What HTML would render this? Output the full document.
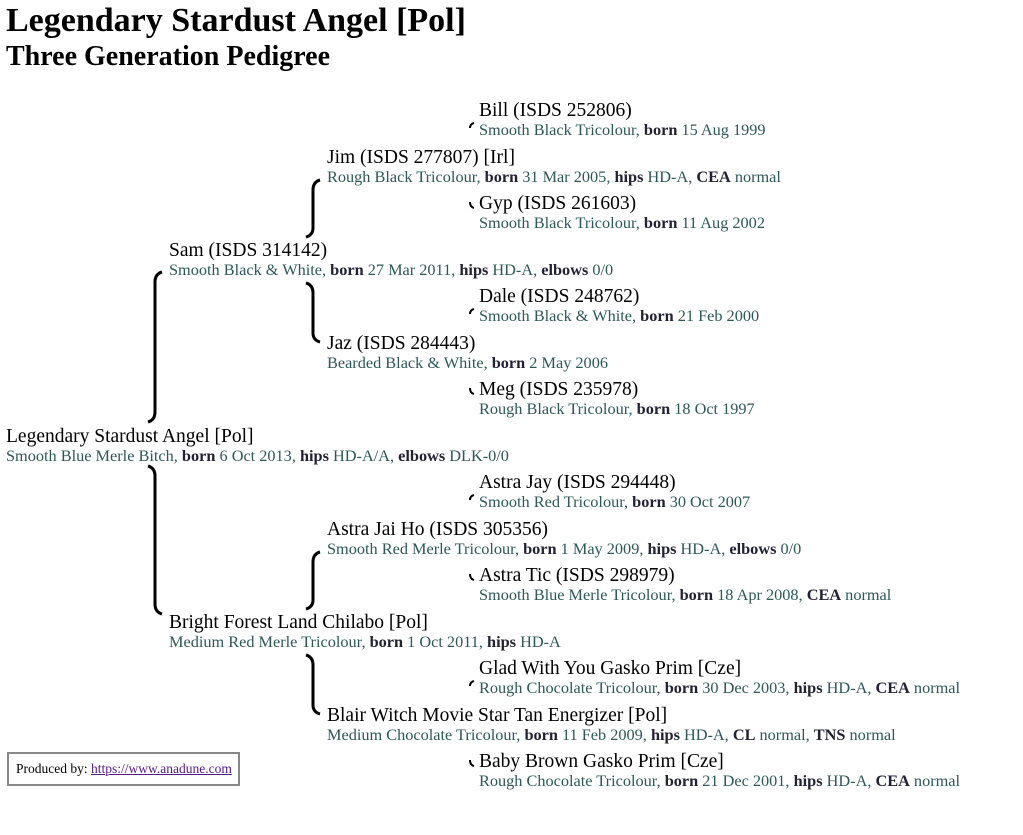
<!DOCTYPE html>
<html><head><meta charset="utf-8"><style>
body{margin:0;width:1023px;height:835px;background:#fff;font-family:"Liberation Serif",serif;position:relative;overflow:hidden}
.t{position:absolute;left:6px;top:3px;font-size:34px;font-weight:bold;line-height:36px;margin:0}
.s{position:absolute;left:6px;top:42px;font-size:28px;font-weight:bold;line-height:30px}
.n{position:absolute;font-size:19.5px;line-height:20px;white-space:nowrap;color:#000;margin-top:2px}
.d{position:absolute;font-size:16.3px;line-height:18px;white-space:nowrap;color:#2f5757}
.d b{color:#223}
.box{position:absolute;left:7px;top:752px;height:34px;border:2px solid #888;font-size:13.5px;line-height:30px;padding-left:7px;box-sizing:border-box;width:233px}
.box a{color:#551a8b;text-decoration:underline}
svg{position:absolute;left:0;top:0}
</style></head><body>
<div class="t">Legendary Stardust Angel [Pol]</div>
<div class="s">Three Generation Pedigree</div>
<svg width="1023" height="835" fill="none" stroke="#000" stroke-width="3">
<path d="M320 180 Q313 182 313 190 L313 228 Q313 235 306 237"/>
<path d="M306 283 Q313 285 313 293 L313 333 Q313 340 320 342"/>
<path d="M162 272 Q155 274 155 282 L155 412 Q155 420 148 422"/>
<path d="M148 466 Q155 468 155 476 L155 604 Q155 612 162 614"/>
<path d="M320 552 Q313 554 313 562 L313 600 Q313 607 306 609"/>
<path d="M306 655 Q313 657 313 665 L313 705 Q313 712 320 714"/>
<g stroke-width="2">
<path d="M474 123 Q470 124 470 128"/><path d="M470 202 Q470 207 474 208"/>
<path d="M474 309 Q470 310 470 314"/><path d="M470 388 Q470 393 474 394"/>
<path d="M474 495 Q470 496 470 500"/><path d="M470 574 Q470 579 474 580"/>
<path d="M474 681 Q470 682 470 686"/><path d="M470 760 Q470 765 474 766"/>
</g>
</svg>
<div class="n" style="left:479px;top:99px">Bill (ISDS 252806)</div>
<div class="d" style="left:479px;top:121px">Smooth Black Tricolour, <b>born</b> 15 Aug 1999</div>
<div class="n" style="left:327px;top:146px">Jim (ISDS 277807) [Irl]</div>
<div class="d" style="left:327px;top:168px">Rough Black Tricolour, <b>born</b> 31 Mar 2005, <b>hips</b> HD-A, <b>CEA</b> normal</div>
<div class="n" style="left:479px;top:192px">Gyp (ISDS 261603)</div>
<div class="d" style="left:479px;top:214px">Smooth Black Tricolour, <b>born</b> 11 Aug 2002</div>
<div class="n" style="left:169px;top:239px">Sam (ISDS 314142)</div>
<div class="d" style="left:169px;top:261px">Smooth Black &amp; White, <b>born</b> 27 Mar 2011, <b>hips</b> HD-A, <b>elbows</b> 0/0</div>
<div class="n" style="left:479px;top:285px">Dale (ISDS 248762)</div>
<div class="d" style="left:479px;top:307px">Smooth Black &amp; White, <b>born</b> 21 Feb 2000</div>
<div class="n" style="left:327px;top:332px">Jaz (ISDS 284443)</div>
<div class="d" style="left:327px;top:354px">Bearded Black &amp; White, <b>born</b> 2 May 2006</div>
<div class="n" style="left:479px;top:378px">Meg (ISDS 235978)</div>
<div class="d" style="left:479px;top:400px">Rough Black Tricolour, <b>born</b> 18 Oct 1997</div>
<div class="n" style="left:6px;top:425px">Legendary Stardust Angel [Pol]</div>
<div class="d" style="left:6px;top:447px">Smooth Blue Merle Bitch, <b>born</b> 6 Oct 2013, <b>hips</b> HD-A/A, <b>elbows</b> DLK-0/0</div>
<div class="n" style="left:479px;top:471px">Astra Jay (ISDS 294448)</div>
<div class="d" style="left:479px;top:493px">Smooth Red Tricolour, <b>born</b> 30 Oct 2007</div>
<div class="n" style="left:327px;top:518px">Astra Jai Ho (ISDS 305356)</div>
<div class="d" style="left:327px;top:540px">Smooth Red Merle Tricolour, <b>born</b> 1 May 2009, <b>hips</b> HD-A, <b>elbows</b> 0/0</div>
<div class="n" style="left:479px;top:564px">Astra Tic (ISDS 298979)</div>
<div class="d" style="left:479px;top:586px">Smooth Blue Merle Tricolour, <b>born</b> 18 Apr 2008, <b>CEA</b> normal</div>
<div class="n" style="left:169px;top:611px">Bright Forest Land Chilabo [Pol]</div>
<div class="d" style="left:169px;top:633px">Medium Red Merle Tricolour, <b>born</b> 1 Oct 2011, <b>hips</b> HD-A</div>
<div class="n" style="left:479px;top:657px">Glad With You Gasko Prim [Cze]</div>
<div class="d" style="left:479px;top:679px">Rough Chocolate Tricolour, <b>born</b> 30 Dec 2003, <b>hips</b> HD-A, <b>CEA</b> normal</div>
<div class="n" style="left:327px;top:704px">Blair Witch Movie Star Tan Energizer [Pol]</div>
<div class="d" style="left:327px;top:726px">Medium Chocolate Tricolour, <b>born</b> 11 Feb 2009, <b>hips</b> HD-A, <b>CL</b> normal, <b>TNS</b> normal</div>
<div class="n" style="left:479px;top:750px">Baby Brown Gasko Prim [Cze]</div>
<div class="d" style="left:479px;top:772px">Rough Chocolate Tricolour, <b>born</b> 21 Dec 2001, <b>hips</b> HD-A, <b>CEA</b> normal</div>
<div class="box">Produced by: <a>https://www.anadune.com</a></div>
</body></html>
